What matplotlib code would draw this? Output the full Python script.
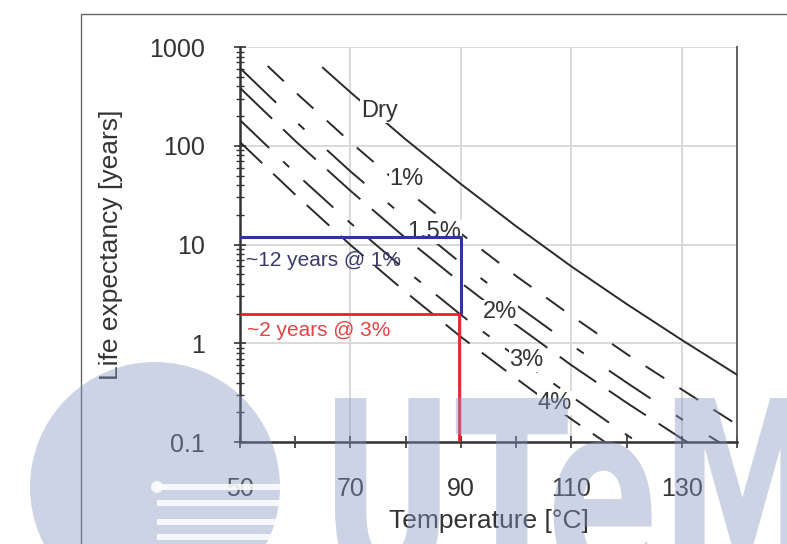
import matplotlib
matplotlib.use("Agg")
import matplotlib.pyplot as plt
from matplotlib.patches import Rectangle, Circle, PathPatch
from matplotlib.textpath import TextPath
from matplotlib.font_manager import FontProperties
from matplotlib.transforms import Affine2D, IdentityTransform

plt.rcParams['font.family'] = ['Liberation Sans', 'DejaVu Sans']
plt.rcParams['lines.scale_dashes'] = False

# temperature [°C] / life expectancy [years]
temp_dry = [65, 70, 80, 90, 100, 110, 120, 130, 140]
life_dry = [617, 348, 116, 41, 15.3, 6.0, 2.5, 1.08, 0.48]

temp_1 = [55, 60, 70, 80, 90, 100, 110, 120, 130, 140]
life_1 = [643, 350, 109, 36, 12.9, 4.8, 1.9, 0.78, 0.34, 0.15]

temp_15 = [50, 60, 70, 80, 90, 100, 110, 120, 130, 140]
life_15 = [612, 178, 55, 18.5, 6.5, 2.44, 0.96, 0.40, 0.17, 0.077]

temp_2 = [50, 60, 70, 80, 90, 100, 110, 120, 130, 140]
life_2 = [385, 112, 35, 11.6, 4.1, 1.53, 0.60, 0.25, 0.108, 0.049]

temp_3 = [50, 60, 70, 80, 90, 100, 110, 120, 130]
life_3 = [182, 53, 16.5, 5.5, 1.94, 0.73, 0.29, 0.118, 0.051]

temp_4 = [50, 60, 70, 80, 90, 100, 110, 120]
life_4 = [109, 32, 9.9, 3.3, 1.16, 0.44, 0.17, 0.071]

curve_names = ["Dry", "1%", "1.5%", "2%", "3%", "4%"]

# the two read-offs at 90 °C
blue_temp = [50, 90, 90]
blue_life = [12, 12, 2]
red_temp = [50, 89.7, 89.7]
red_life = [2, 2, 0.1]

x_ticks = [50, 70, 90, 110, 130]
x_minor = [60, 80, 100, 120, 140]
y_ticks = [0.1, 1, 10, 100, 1000]
y_labels = ["0.1", "1", "10", "100", "1000"]

fig = plt.figure(figsize=(7.87, 5.44), dpi=100)
ax = fig.add_axes([0.305, 0.1875, 0.6315, 0.726])
ax.set_yscale('log')
ax.set_xlim(50, 140)
ax.set_ylim(0.1, 1000)

line_col = '#2a2a2a'
ax.plot(temp_dry, life_dry, color=line_col, lw=1.4, zorder=3)
ax.plot(temp_1, life_1, color=line_col, lw=1.4, dashes=(16, 13), zorder=3)
ax.plot(temp_15, life_15, color=line_col, lw=1.4, dashes=(36, 22, 6, 22), zorder=3)
ax.plot(temp_2, life_2, color=line_col, lw=1.4, dashes=(32, 11), zorder=3)
ax.plot(temp_3, life_3, color=line_col, lw=1.4, dashes=(29, 14, 6, 14), zorder=3)
ax.plot(temp_4, life_4, color=line_col, lw=1.4, dashes=(22, 11), zorder=3)

ax.plot(blue_temp, blue_life, color='#33339a', lw=2.2, zorder=5, solid_capstyle='butt')
ax.plot(red_temp, red_life, color='#e62228', lw=2.0, zorder=5, solid_capstyle='butt')

# curve labels sit on the lines with a white box
label_pos = [(75.2, 225), (80.2, 46), (85.1, 13.4), (97.1, 2.07), (101.9, 0.676), (107.0, 0.248)]
for name, (lx, ly) in zip(curve_names, label_pos):
    ax.text(lx, ly, name, fontsize=17, color='#333333', ha='center', va='center', zorder=4,
            bbox=dict(facecolor='white', edgecolor='none', pad=0.5))

ax.text(51.0, 6.97, "~12 years @ 1%", fontsize=15, color='#3a3a6e', ha='left', va='center', zorder=6)
ax.text(51.3, 1.36, "~2 years @ 3%", fontsize=15, color='#e04444', ha='left', va='center', zorder=6)

ax.set_xticks(x_ticks)
ax.set_xticks(x_minor, minor=True)
ax.set_yticks(y_ticks)
ax.set_yticklabels(y_labels)
ax.tick_params(axis='both', which='major', direction='inout', length=9, width=1.2,
               pad=21, labelsize=18, labelcolor='#333333', color='#333333')
ax.tick_params(axis='x', which='minor', direction='inout', length=9, width=1.2, color='#333333')
ax.tick_params(axis='y', which='minor', direction='inout', length=6, width=1.0, color='#333333')

ax.grid(True, which='major', color='#d9d9d9', lw=1.4, zorder=0)
ax.set_axisbelow(True)

ax.spines['top'].set_visible(False)
for s in ['left', 'bottom']:
    ax.spines[s].set_color('#333333')
    ax.spines[s].set_linewidth(1.8)
ax.spines['right'].set_color('#555555')
ax.spines['right'].set_linewidth(1.3)

ax.set_xlabel("Temperature [°C]", fontsize=19, color='#333333')
ax.set_ylabel("Life expectancy [years]", fontsize=19, color='#333333')
ax.xaxis.set_label_coords(0.5, -0.170)
ax.yaxis.set_label_coords(-0.235, 0.5)

# outer chart frame
fig.add_artist(Rectangle((81, -20), 800, 550, transform=IdentityTransform(),
                         fill=False, edgecolor='#666666', lw=1.0))

# faint university watermark over the lower part
wm_col = '#8597c3'
fig.add_artist(Circle((155, 57), 125, transform=IdentityTransform(),
                      facecolor=wm_col, edgecolor='none', alpha=0.42, zorder=10))
for yy in [57, 41, 22, 7]:
    fig.add_artist(Rectangle((157, yy - 3), 151, 6, transform=IdentityTransform(),
                             facecolor='white', edgecolor='none', alpha=0.85, zorder=11))
fig.add_artist(Circle((157, 57), 6, transform=IdentityTransform(),
                      facecolor='white', edgecolor='none', alpha=0.85, zorder=11))

tp = TextPath((0, 0), "UTeM", size=100, prop=FontProperties(family='DejaVu Sans', weight='bold'))
bb = tp.get_extents()
sx = 475 / bb.width
sy = 186 / bb.y1
tr = Affine2D().translate(-bb.x0, 0).scale(sx, sy).translate(335, -40)
fig.add_artist(PathPatch(tp, transform=tr, facecolor=wm_col, edgecolor='none', alpha=0.42, zorder=10))

fig.savefig("out.png", dpi=100)
